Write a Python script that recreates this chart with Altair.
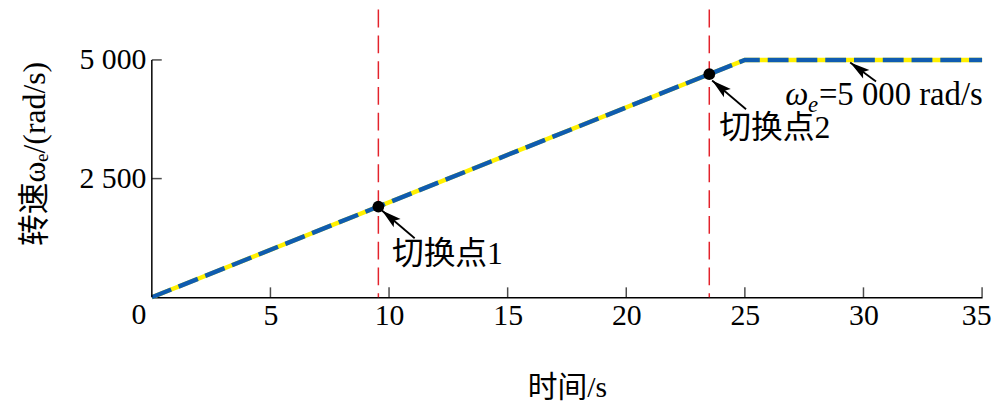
import altair as alt
import pandas as pd

# ---- data ----
time_s = [0, 25, 35]
speed = [0, 5000, 5000]

switch_t = [9.55, 23.5]
switch_v = [1910, 4700]

x_ticks = [0, 5, 10, 15, 20, 25, 30, 35]
y_ticks = [2500, 5000]
y_axis_top = 5000

ann_labels = ["切换点1", "切换点2"]
ann_t = [10.12, 23.92]
ann_v = [920, 3574]

arrow_tail_t = [11.08, 25.05, 30.53]
arrow_tail_v = [1244, 3961, 4546]
arrow_tip_t = [9.70, 23.62, 29.44]
arrow_tip_v = [1829, 4567, 4944]
arrow_angle = [310, 310, 306]

omega_t = [26.7]
omega_v = [4254]
omega_parts = ["ω", "e", "=5 000 rad/s"]

FONT = "Liberation Serif, Noto Sans CJK SC"
FS = 30

xs = alt.Scale(domain=[0, 35], nice=False, zero=False)
ys = alt.Scale(domain=[0, 6060], nice=False, zero=False)

x_axis = alt.Axis(
    values=x_ticks, labelExpr="datum.value == 0 ? '' : datum.label",
    ticks=False, grid=False, domainColor="black", domainWidth=1.5,
    labelFont=FONT, labelFontSize=FS, labelColor="black", labelPadding=3,
    labelOverlap=False, labelFlush=True, labelFlushOffset=9,
    title="时间/s", titleFont=FONT, titleFontSize=FS, titleFontWeight="normal",
    titleColor="black", titlePadding=43,
)
y_axis = alt.Axis(
    values=y_ticks, labelExpr="replace(format(datum.value, ','), ',', ' ')",
    domain=False, ticks=False, grid=False,
    labelFont=FONT, labelFontSize=FS, labelColor="black", labelPadding=6,
    labelOverlap=False, labelFlush=False,
    title="转速ωₑ/(rad/s)", titleFont=FONT, titleFontSize=32, titleFontWeight="normal",
    titleColor="black", titlePadding=28,
)

def X(f="t"):
    return alt.X(f, type="quantitative", scale=xs, axis=x_axis)

def Y(f="v"):
    return alt.Y(f, type="quantitative", scale=ys, axis=y_axis)

curve = pd.DataFrame({"t": time_s, "v": speed})
sw = pd.DataFrame({"t": switch_t, "v": switch_v})
ann = pd.DataFrame({"t": ann_t, "v": ann_v, "label": ann_labels})
arr = pd.DataFrame({"t": arrow_tail_t, "v": arrow_tail_v,
                    "t2": arrow_tip_t, "v2": arrow_tip_v, "ang": arrow_angle})
tip = pd.DataFrame({"t": arrow_tip_t, "v": arrow_tip_v, "ang": arrow_angle})
xt = pd.DataFrame({"t": [v for v in x_ticks if v > 0], "v": [0] * (len(x_ticks) - 1)})
yt = pd.DataFrame({"t": [0] * len(y_ticks), "v": y_ticks})
yline = pd.DataFrame({"t": [0], "v": [0], "v2": [y_axis_top]})
origin = pd.DataFrame({"t": [0], "v": [0], "label": ["0"]})
om = pd.DataFrame({"t": omega_t, "v": omega_v})

red = alt.Chart(sw).mark_rule(color="#e3232c", strokeWidth=1.5, strokeDash=[18, 8]).encode(x=X())

yax = alt.Chart(yline).mark_rule(color="black", strokeWidth=1.5).encode(
    x=X(), y=Y(), y2="v2:Q")
xtk = alt.Chart(xt).mark_tick(orient="vertical", size=10, thickness=1.5, color="black",
                              yOffset=-5).encode(x=X(), y=Y())
ytk = alt.Chart(yt).mark_tick(orient="horizontal", size=10, thickness=1.5, color="black",
                              xOffset=5).encode(x=X(), y=Y())
orig = alt.Chart(origin).mark_text(font=FONT, fontSize=FS, color="black", align="center",
                                   baseline="top", dx=-13, dy=3).encode(x=X(), y=Y(), text="label:N")

yellow = alt.Chart(curve).mark_line(color="#fff000", strokeWidth=4.5, strokeCap="butt").encode(
    x=X(), y=Y())
blue = alt.Chart(curve).mark_line(color="#0f5cb0", strokeWidth=4.5, strokeDash=[21, 8],
                                  strokeCap="butt").encode(x=X(), y=Y())

dots = alt.Chart(sw).mark_circle(size=140, color="black", opacity=1).encode(x=X(), y=Y())

shafts = alt.Chart(arr).mark_rule(color="black", strokeWidth=1.8).encode(
    x=X(), y=Y(), x2="t2:Q", y2="v2:Q")
ARROW = "M0,0 L0.27,1 L0,0.8 L-0.27,1 Z"
heads = alt.Chart(tip).mark_point(shape=ARROW, filled=True, color="black", opacity=1,
                                  size=1600, strokeWidth=0).encode(
    x=X(), y=Y(), angle=alt.Angle("ang:Q", scale=None))

labels = alt.Chart(ann).mark_text(font=FONT, fontSize=32, color="black", align="left",
                                  baseline="middle").encode(x=X(), y=Y(), text="label:N")

om1 = alt.Chart(om).mark_text(text=omega_parts[0], font=FONT, fontSize=33, fontStyle="italic",
                              color="black", align="left", baseline="middle").encode(x=X(), y=Y())
om2 = alt.Chart(om).mark_text(text=omega_parts[1], font=FONT, fontSize=23, fontStyle="italic",
                              color="black", align="left", baseline="middle", dx=23, dy=10).encode(x=X(), y=Y())
om3 = alt.Chart(om).mark_text(text=omega_parts[2], font=FONT, fontSize=33,
                              color="black", align="left", baseline="middle", dx=34).encode(x=X(), y=Y())

chart = alt.layer(
    red, yellow, blue, yax, xtk, ytk, orig, dots, shafts, heads, labels, om1, om2, om3
).properties(
    width=837, height=290,
    padding={"left": 145, "top": 0, "right": 10, "bottom": 108},
    autosize=alt.AutoSizeParams(type="none"),
).configure_view(stroke=None)

chart.save("out.html", embed_options={"renderer": "svg", "actions": False})
